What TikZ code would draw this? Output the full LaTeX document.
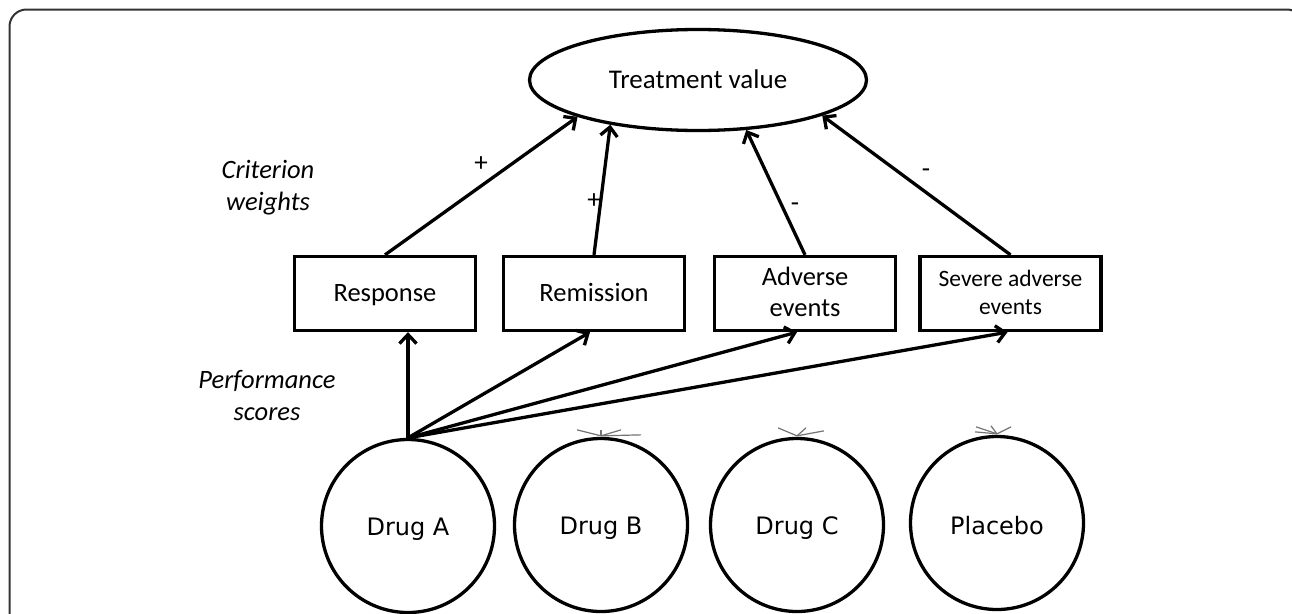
\documentclass[tikz,border=0pt]{standalone}
\usepackage{fontspec}
\setmainfont{Carlito}
\newfontfamily\dejavu{DejaVu Sans}
\newcommand\midstrut{\rule[-0.2em]{0pt}{1em}}
\newcommand\lowstrut{\rule[-0.1em]{0pt}{1.13em}}
\usetikzlibrary{arrows.meta,shapes.geometric,calc}
\begin{document}
\begin{tikzpicture}[x=1pt,y=-1pt,
  every node/.style={inner sep=0pt},
  critbox/.style={draw,line width=3.3pt,minimum width=181pt,minimum height=74pt,align=center,font=\fontsize{26.5}{31}\selectfont},
  drugnode/.style={draw,circle,line width=3.3pt,minimum size=173pt,font=\dejavu\fontsize{24}{28}\selectfont},
  link/.style={line width=3.3pt,-{Straight Barb[length=9pt,width=17pt,line width=3.3pt]}},
  signlabel/.style={font=\fontsize{27}{30}\selectfont},
  sidelabel/.style={font=\itshape\fontsize{26.5}{32}\selectfont,align=center},
  ghost/.style={black!55,line width=1.2pt}]
\useasboundingbox (0,0) rectangle (1292,613);
\clip (0,0) rectangle (1292,613);
\fill[white] (0,0) rectangle (1292,613);
% frame
\draw[line width=2pt,black!80,rounded corners=17pt] (9.5,650) -- (9.5,9.5) -- (1304,9.5) -- (1304,650);

% top ellipse
\node[draw,ellipse,line width=3.3pt,minimum width=337pt,minimum height=101pt,font=\fontsize{27}{32}\selectfont] (tv) at (698,80) {\midstrut Treatment value};

% criteria
\node[critbox] (resp) at (385,293.5) {\midstrut Response};
\node[critbox] (rem) at (594,293.5) {\midstrut Remission};
\node[critbox] (adv) at (805,293.5) {\midstrut Adverse\\\midstrut events};
\node[critbox,font=\fontsize{23.5}{28}\selectfont] (sev) at (1010.5,293.5) {\midstrut Severe adverse\\\midstrut events};

% alternatives
\node[drugnode] (da) at (408,526) {\lowstrut Drug A};
\node[drugnode] (db) at (601,525) {\lowstrut Drug B};
\node[drugnode] (dc) at (797,525) {\lowstrut Drug C};
\node[drugnode] (pl) at (997,523) {\lowstrut Placebo};

% side labels
\node[sidelabel] (cw) at (268,187) {\midstrut Criterion\\\midstrut weights};
\node[sidelabel] (ps) at (267,397) {\midstrut Performance\\\midstrut scores};

% weights arrows
\draw[link] (resp.north) -- (tv.197);
\draw[link] (rem.north) -- (tv.207);
\draw[link] (adv.north) -- (tv.314);
\draw[link] (sev.north) -- (tv.-16);

% sign labels
\node[signlabel] (s1) at (481,164) {+};
\node[signlabel] (s2) at (594,201) {+};
\node[signlabel] (s3) at (795,207) {-};
\node[signlabel] (s4) at (926,173) {-};

% performance arrows
\draw[link] (da.north) -- (resp.south -| da.north);
\draw[link] (da.north) -- ([xshift=-4pt]rem.south);
\draw[link] (da.north) -- ([xshift=-8pt]adv.south);
\draw[link] (da.north) -- ([xshift=-3pt]sev.south);

% stray marks on circles
\draw[ghost] ([yshift=1pt]db.north) -- ++(-24,-6);
\draw[ghost] ([yshift=1pt]db.north) -- ++(0,-6);
\draw[ghost] ([yshift=1pt]db.north) -- ++(20,-6);
\draw[ghost] ([yshift=1pt]db.north) -- ++(40,-1);
\draw[ghost] ([yshift=1pt]dc.north) -- ++(-19,-8);
\draw[ghost] ([yshift=1pt]dc.north) -- ++(9,-8);
\draw[ghost] ([yshift=1pt]dc.north) -- ++(27,-5);
\draw[ghost] ([yshift=1pt]pl.north) -- ++(-22,-2);
\draw[ghost] ([yshift=1pt]pl.north) -- ++(-21,-7);
\draw[ghost] ([yshift=1pt]pl.north) -- ++(-6,-8);
\draw[ghost] ([yshift=1pt]pl.north) -- ++(14,-7);
\end{tikzpicture}
\end{document}
